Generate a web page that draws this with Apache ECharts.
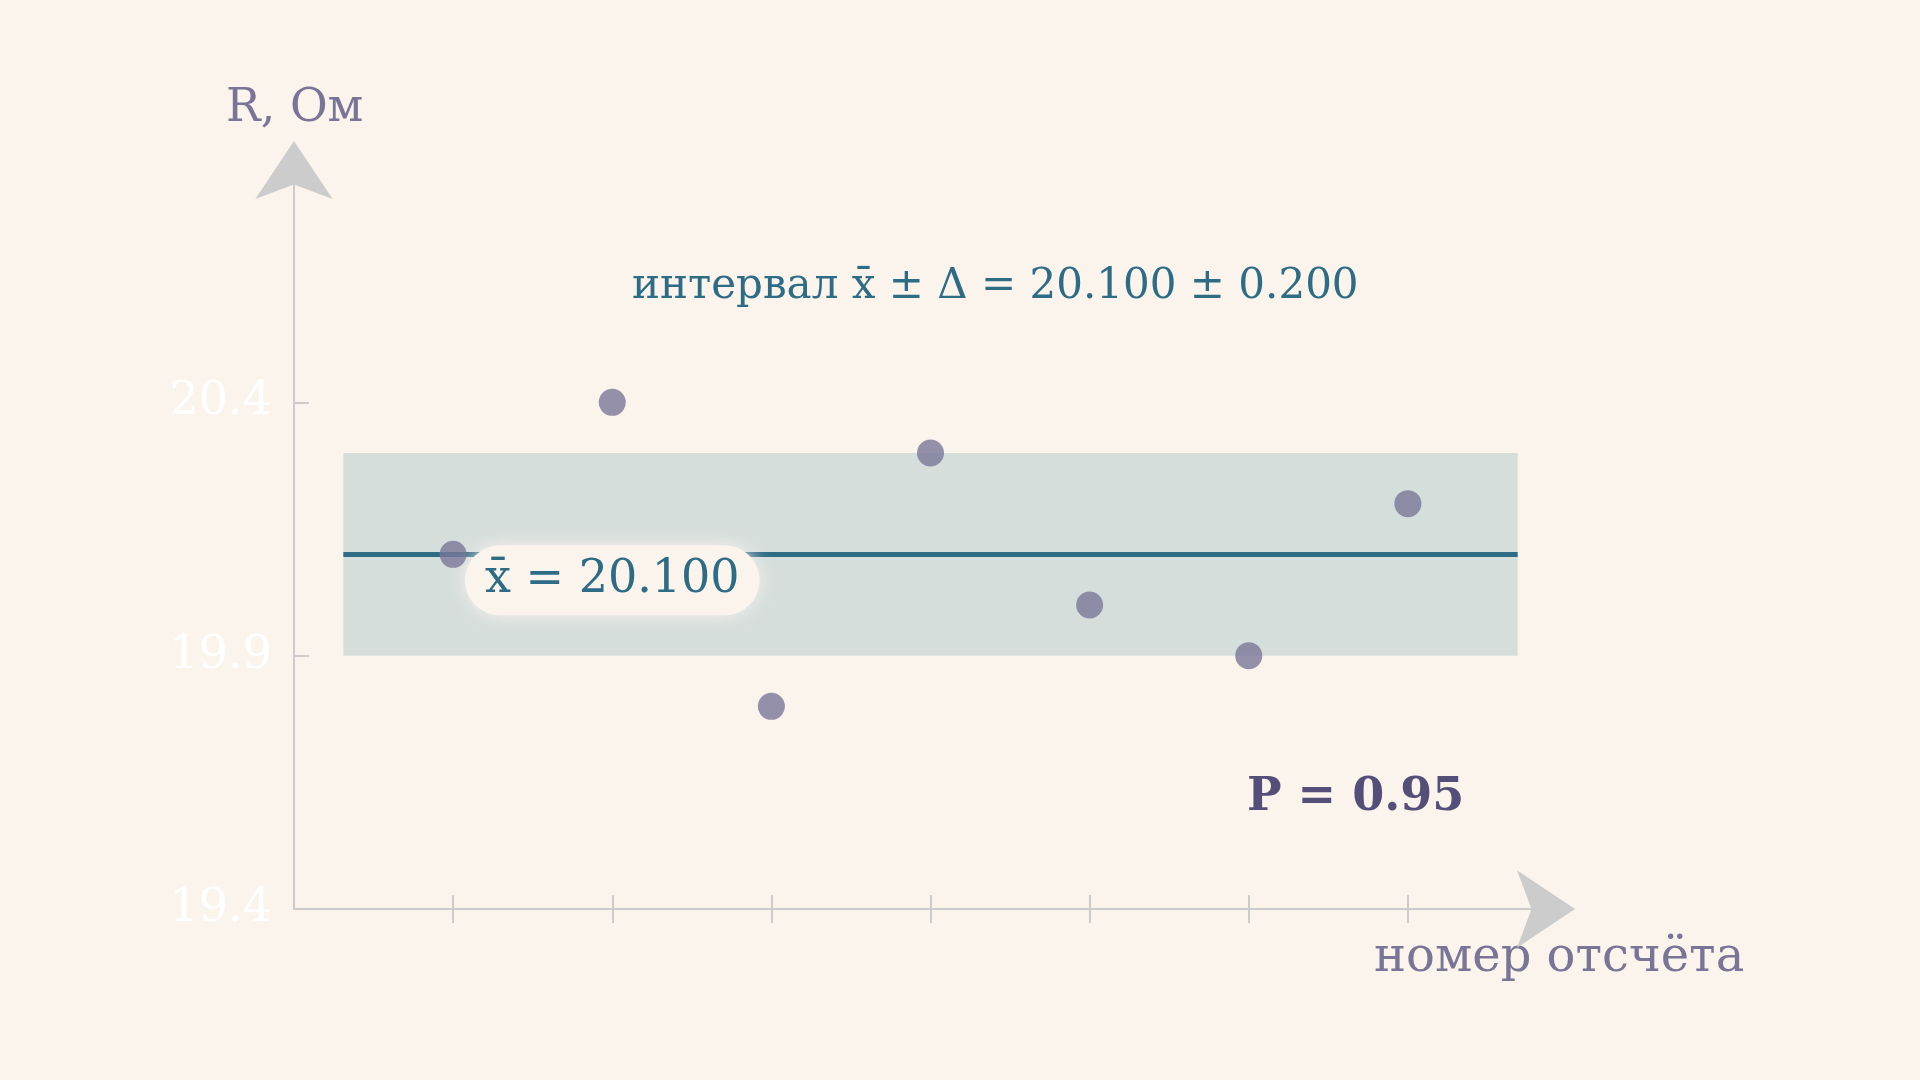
<!DOCTYPE html>
<html><head><meta charset="utf-8">
<script src="https://cdn.jsdelivr.net/npm/echarts@6/dist/echarts.min.js"></script>
<style>html,body{margin:0;padding:0;background:#faf4ed}#c{width:1920px;height:1080px}</style>
</head><body><div id="c"></div>
<script>
const readings = [1,2,3,4,5,6,7];
const values = [20.1,20.4,19.8,20.3,20.0,19.9,20.2];
const yTicks = [19.4,19.9,20.4];
const meanValue = 20.1;
const delta = 0.2;
const bandX = [0.31,7.69];
const F = '"DejaVu Serif", serif';
const chart = echarts.init(document.getElementById('c'));
const grid = {left:294,right:353,top:149,bottom:171};
chart.setOption({
  backgroundColor:'#faf4ed',
  animation:false,
  grid:grid,
  xAxis:[{type:'value',min:0,max:8,
    axisLine:{show:true,lineStyle:{color:'#cccccc',width:2},symbol:['none','arrow'],symbolSize:[58,58],symbolOffset:[0,8]},
    axisTick:{show:true,customValues:readings,length:14,lineStyle:{color:'#cccccc',width:2}},
    axisLabel:{show:false},splitLine:{show:false}},
   {type:'value',min:0,max:8,position:'bottom',
    axisLine:{show:false},
    axisTick:{show:true,inside:true,customValues:readings,length:14,lineStyle:{color:'#cccccc',width:2}},
    axisLabel:{show:false},splitLine:{show:false}}],
  yAxis:{type:'value',min:19.4,max:20.9,
    axisLine:{show:true,lineStyle:{color:'#cccccc',width:2},symbol:['none','arrow'],symbolSize:[58,58],symbolOffset:[0,8]},
    axisTick:{show:true,inside:true,customValues:yTicks,length:15,lineStyle:{color:'#cccccc',width:2}},
    axisLabel:{show:true,customValues:yTicks,color:'#ffffff',fontFamily:F,fontSize:46,margin:22,formatter:v=>v.toFixed(1)},
    splitLine:{show:false}},
  series:[{type:'scatter',data:readings.map((r,i)=>[r,values[i]]),symbolSize:27,
    itemStyle:{color:'#7b7799'},z:5,
    markArea:{silent:true,itemStyle:{color:'#d6dedc'},data:[[{coord:[bandX[0],meanValue-delta]},{coord:[bandX[1],meanValue+delta]}]]},
    markLine:{silent:true,symbol:'none',lineStyle:{color:'#2e6b85',width:5,type:'solid'},label:{show:false},
      data:[[{coord:[bandX[0],meanValue]},{coord:[bandX[1],meanValue]}]]},
    markPoint:{silent:true,symbol:'circle',symbolSize:1,itemStyle:{color:'rgba(0,0,0,0)'},
      data:[{coord:[2,meanValue],label:{show:true,formatter:'x̄ = '+meanValue.toFixed(3),offset:[0,26],
        color:'#2e6b85',fontFamily:F,fontSize:46,backgroundColor:'#faf4ed',padding:[12,20],borderRadius:36,
        shadowColor:'rgba(250,244,237,0.9)',shadowBlur:18}}]}
  }],
  graphic:[
    {type:'text',left:226,top:86,style:{text:'R, Ом',fill:'#7a7596',font:'46px '+F}},
    {type:'text',left:1374,top:935,style:{text:'номер отсчёта',fill:'#7a7596',font:'48px '+F}},
    {type:'text',left:632,top:266,style:{text:'интервал x̄ ± Δ = '+meanValue.toFixed(3)+' ± '+delta.toFixed(3),fill:'#2e6b85',font:'42px '+F}},
    {type:'text',left:1247,top:775,style:{text:'P = 0.95',fill:'#544f78',font:'bold 46px '+F}}
  ]
});
</script></body></html>
